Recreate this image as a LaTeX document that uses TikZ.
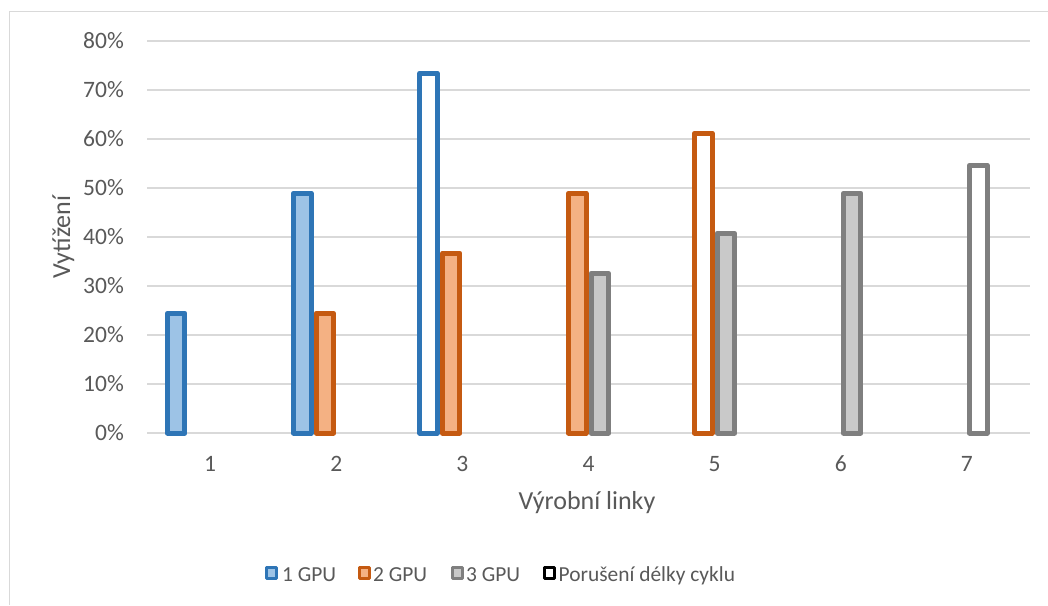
\documentclass[tikz,border=0pt]{standalone}
\usepackage{fontspec}
\setmainfont{Carlito}
\definecolor{tick}{HTML}{595959}
\definecolor{gridc}{HTML}{D9D9D9}
\definecolor{blueL}{HTML}{2E75B6}
\definecolor{blueF}{HTML}{9DC3E6}
\definecolor{orL}{HTML}{C55A11}
\definecolor{orF}{HTML}{F4B183}
\definecolor{grL}{HTML}{7F7F7F}
\definecolor{grF}{HTML}{C9C9C9}
\begin{document}
\begin{tikzpicture}[x=1pt,y=-1pt,
  font=\fontsize{23.5}{28}\selectfont,
  gridline/.style={draw=gridc, line width=1.6pt},
  barbox/.style={line width=5pt, line join=round},
  sA/.style={barbox, draw=blueL, fill=blueF},
  sAv/.style={barbox, draw=blueL, fill=white},
  sB/.style={barbox, draw=orL, fill=orF},
  sBv/.style={barbox, draw=orL, fill=white},
  sC/.style={barbox, draw=grL, fill=grF},
  sCv/.style={barbox, draw=grL, fill=white},
  ticklab/.style={text=tick, inner sep=0pt},
  leglab/.style={text=tick, inner sep=0pt, anchor=base west, font=\fontsize{21.4}{26}\selectfont},
  legbox/.style={line width=3pt, line join=round},
]
\useasboundingbox (0,0) rectangle (1048,605);
\fill[white] (0,0) rectangle (1048,605);
% chart frame
\draw[gridc, line width=1.5pt] (9.5,605) -- (9.5,11.5) -- (1048,11.5);
% gridlines and y labels
\foreach \k in {0,...,8} {
  \pgfmathsetmacro{\yy}{433-49*\k}
  \draw[gridline] (147,\yy) -- (1030,\yy);
  \pgfmathtruncatemacro{\pc}{10*\k}
  \node[ticklab, anchor=base east] (y\k) at (124,\yy+7.5) {\pc\%};
}
% x labels
\foreach \i in {1,...,7} {
  \pgfmathsetmacro{\cx}{147+126.14*(\i-0.5)}
  \node[ticklab, anchor=base] (x\i) at (\cx,471) {\i};
}
% bars: style / category / top / series
\foreach \st/\i/\top/\s in {sA/1/313.2/0, sA/2/193.2/0, sB/2/313.2/1, sAv/3/73.2/0, sB/3/253.2/1,
  sB/4/193.2/1, sC/4/273.2/2, sBv/5/133.2/1, sC/5/233.2/2, sC/6/193.2/2, sCv/7/165.2/2} {
  \pgfmathsetmacro{\xl}{147+126.14*(\i-0.5)-45.2+22.6*\s+2.5}
  \pgfmathsetmacro{\xr}{\xl+17.6}
  \path[\st] (\xl,433) rectangle (\xr,\top);
}
% axis titles
\node[text=tick, inner sep=0pt, anchor=base, font=\fontsize{26}{31}\selectfont] (xt) at (587,509) {Výrobní linky};
\node[text=tick, inner sep=0pt, anchor=base, rotate=90, font=\fontsize{26}{31}\selectfont] (yt) at (70,237) {Vytížení};
% legend
\path[legbox, draw=blueL, fill=blueF] (266.5,567.5) rectangle (276.5,578.5);
\node[leglab] (t1) at (282,581) {1 GPU};
\path[legbox, draw=orL, fill=orF] (359,567.5) rectangle (369,578.5);
\node[leglab] (t2) at (373,581) {2 GPU};
\path[legbox, draw=grL, fill=grF] (452,567.5) rectangle (462,578.5);
\node[leglab] (t3) at (466,581) {3 GPU};
\path[legbox, draw=black, fill=white] (544.5,567.5) rectangle (554.5,578.5);
\node[leglab] (t4) at (558.5,581) {Porušení délky cyklu};
\end{tikzpicture}
\end{document}
